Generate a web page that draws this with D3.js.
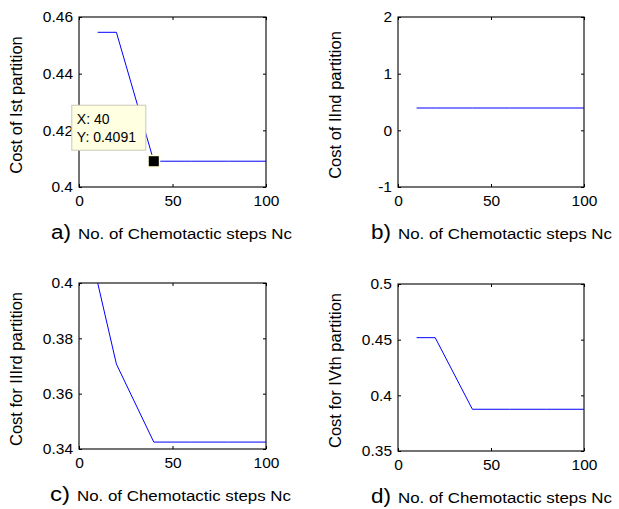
<!DOCTYPE html>
<html lang="en">
<head>
<meta charset="UTF-8">
<title>Chemotactic steps</title>
<script src="https://d3js.org/d3.v7.min.js"></script>
<style>
  body { margin: 0; background: #fff; }
  text { font-family: "Liberation Sans", Arial, Helvetica, sans-serif; fill: #000; }
  .axis .domain { display: none; }
</style>
</head>
<body>
<svg id="chart" width="619" height="509"></svg>
<script>
// data
const steps = [10, 20, 40, 60, 80, 100];
const cost1 = [0.4546, 0.4546, 0.4091, 0.4091, 0.4091, 0.4091];
const cost2 = [0.394, 0.394, 0.394, 0.394, 0.394, 0.394];
const cost3 = [0.400, 0.3707, 0.3425, 0.3425, 0.3425, 0.3425];
const cost4 = [0.4518, 0.4518, 0.3875, 0.3875, 0.3875, 0.3875];

const xTicks = [0, 50, 100];
const yTicks1 = [0.4, 0.42, 0.44, 0.46];
const yTicks2 = [-1, 0, 1, 2];
const yTicks3 = [0.34, 0.36, 0.38, 0.4];
const yTicks4 = [0.35, 0.4, 0.45, 0.5];

const letters = ["a)", "b)", "c)", "d)"];
const yTitles = ["Cost of Ist partition", "Cost of IInd partition",
                 "Cost for IIIrd partition", "Cost for IVth partition"];
const xTitle = "No. of Chemotactic steps Nc";

const tip = { x: 40, y: 0.4091 };

const svg = d3.select("#chart");

const panels = [
  { box: [79, 17, 266, 187], vals: cost1, ticks: yTicks1, labX: 51 },
  { box: [398, 17, 584, 187], vals: cost2, ticks: yTicks2, labX: 371 },
  { box: [79, 283, 266, 449], vals: cost3, ticks: yTicks3, labX: 50 },
  { box: [398, 284, 584, 451], vals: cost4, ticks: yTicks4, labX: 371 }
];

panels.forEach((p, i) => {
  const [x0, y0, x1, y1] = p.box;
  const w = x1 - x0, h = y1 - y0;
  const g = svg.append("g").attr("transform", `translate(${x0},${y0})`);

  const x = d3.scaleLinear().domain([0, 100]).range([0, w]);
  const y = d3.scaleLinear().domain(d3.extent(p.ticks)).range([h, 0]);

  // axes, ticks pointing inward on all four sides
  g.append("g").attr("class", "axis").attr("transform", `translate(0,${h})`)
    .call(d3.axisBottom(x).tickValues(xTicks).tickSize(-3).tickPadding(8).tickFormat(d => d))
    .selectAll("text").attr("font-size", 15.5);
  g.append("g").attr("class", "axis")
    .call(d3.axisTop(x).tickValues(xTicks).tickSize(-3).tickFormat(""));
  g.append("g").attr("class", "axis")
    .call(d3.axisLeft(y).tickValues(p.ticks).tickSize(-3).tickPadding(6).tickFormat(d => d))
    .selectAll("text").attr("font-size", 15.5);
  g.append("g").attr("class", "axis").attr("transform", `translate(${w},0)`)
    .call(d3.axisRight(y).tickValues(p.ticks).tickSize(-3).tickFormat(""));
  g.selectAll(".axis .tick line").attr("stroke", "#000");

  g.append("rect").attr("width", w).attr("height", h)
    .attr("fill", "none").attr("stroke", "#000").attr("stroke-width", 1.1);

  const line = d3.line().x((d, k) => x(steps[k])).y(d => y(d));
  g.append("path").datum(p.vals)
    .attr("fill", "none").attr("stroke", "#0000ff").attr("stroke-width", 1)
    .attr("d", line);

  // y title
  svg.append("text")
    .attr("transform", `translate(${x0 - 57},${y0 + h / 2 + 3}) rotate(-90)`)
    .attr("text-anchor", "middle").attr("font-size", 16.5)
    .text(yTitles[i]);

  // panel caption (letter + x title)
  svg.append("text")
    .attr("x", p.labX).attr("y", y1 + 52)
    .attr("font-size", 20)
    .attr("textLength", 20).attr("lengthAdjust", "spacingAndGlyphs")
    .text(letters[i]);
  svg.append("text")
    .attr("x", p.labX + 27).attr("y", y1 + 52)
    .attr("font-size", 15.5)
    .attr("textLength", 214).attr("lengthAdjust", "spacingAndGlyphs")
    .text(xTitle);

  // data tip on the first panel
  if (i === 0) {
    const px = x(tip.x), py = y(tip.y);
    const tg = g.append("g");
    const bx = px - 82, by = py - 56;
    tg.append("rect").attr("x", bx).attr("y", by).attr("width", 74).attr("height", 45)
      .attr("fill", "#ffffe1").attr("stroke", "#c9c9b8").attr("stroke-width", 1);
    tg.append("text").attr("x", bx + 5).attr("y", by + 19).attr("font-size", 14)
      .text("X: " + tip.x);
    tg.append("text").attr("x", bx + 5).attr("y", by + 37).attr("font-size", 14)
      .text("Y: " + tip.y);
    tg.append("rect").attr("x", px - 6.5).attr("y", py - 6.5).attr("width", 13).attr("height", 13)
      .attr("fill", "#ffffd8");
    tg.append("rect").attr("x", px - 5).attr("y", py - 5).attr("width", 10).attr("height", 10)
      .attr("fill", "#000");
  }
});
</script>
</body>
</html>
